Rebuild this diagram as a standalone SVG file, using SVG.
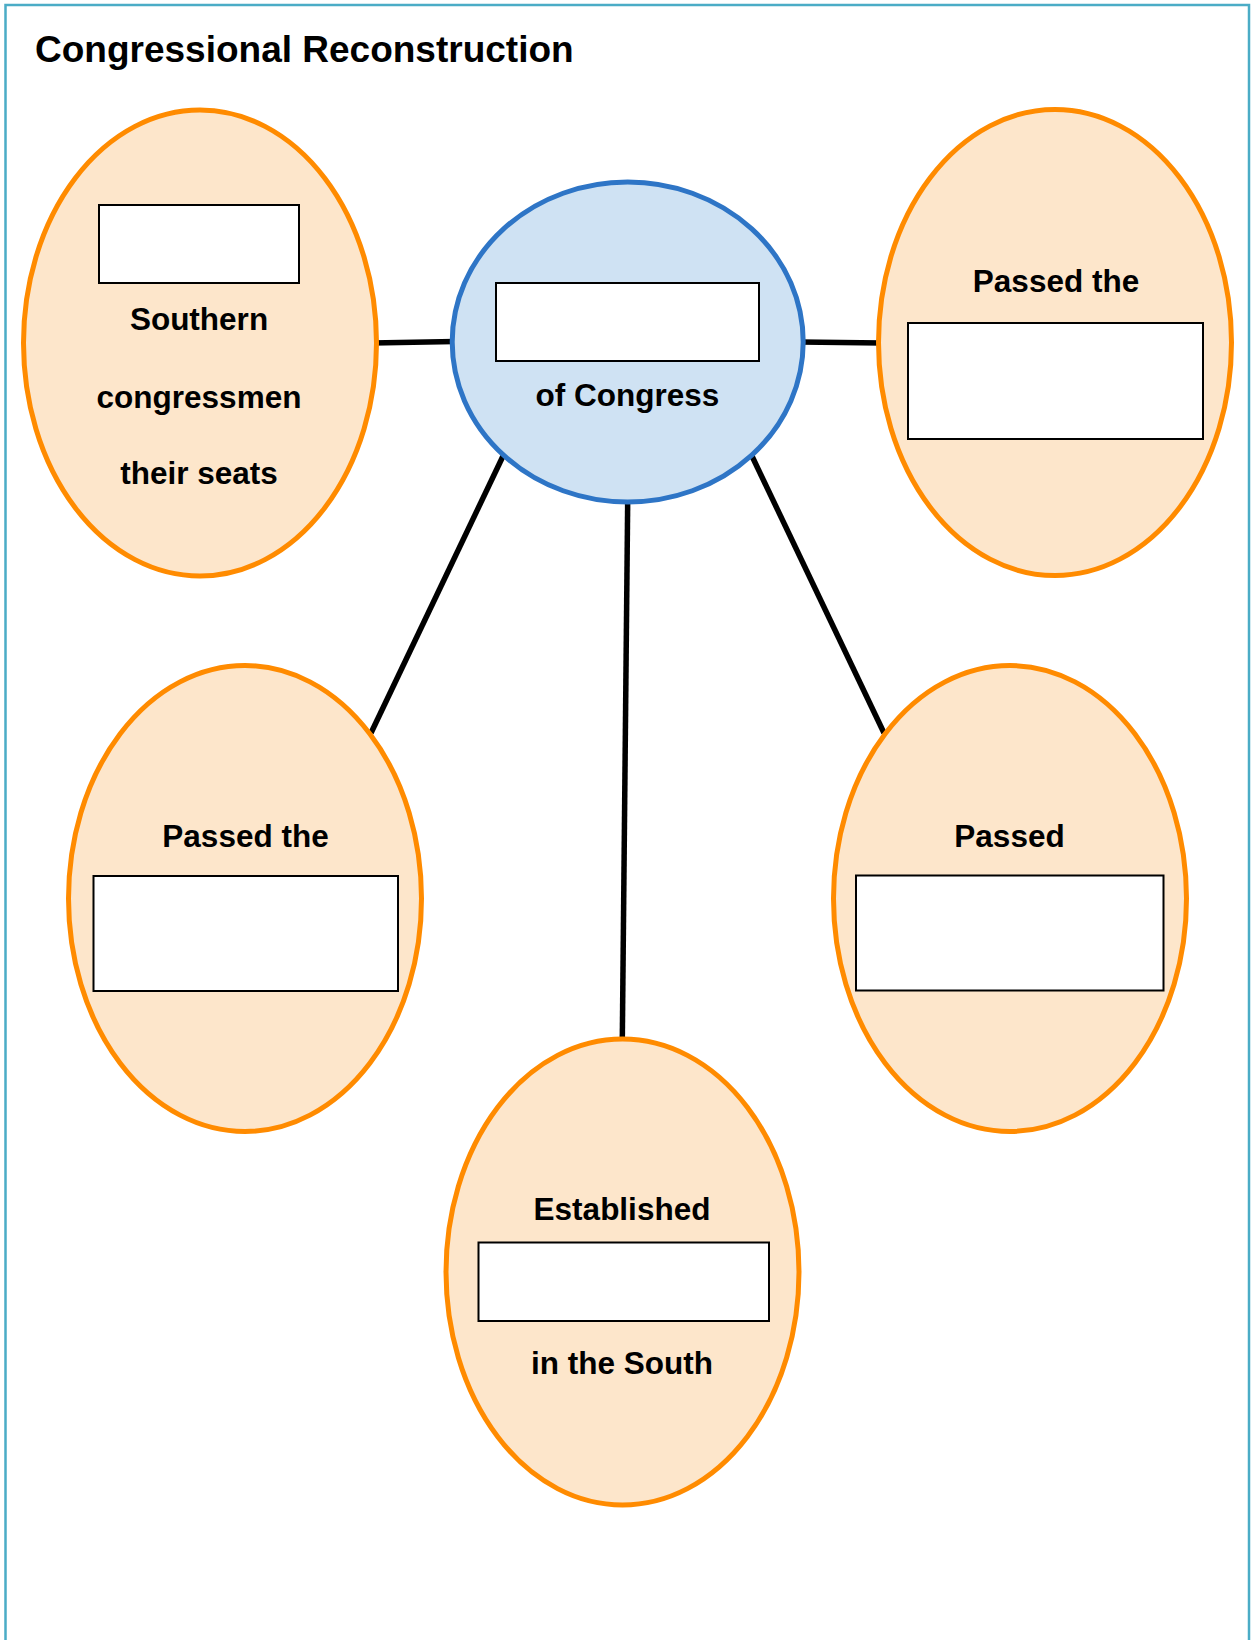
<svg xmlns="http://www.w3.org/2000/svg" width="1251" height="1640" viewBox="0 0 1251 1640">
  <style>
    .frame { fill: none; stroke: #4bacc6; stroke-width: 2.5; }
    .title { font-family: "Liberation Sans", Arial, sans-serif; font-weight: bold; font-size: 37px; fill: #000; }
    .label { font-family: "Liberation Sans", Arial, sans-serif; font-weight: bold; font-size: 31.5px; fill: #000; text-anchor: middle; }
    .idea { fill: #fde6cb; stroke: #ff8b00; stroke-width: 5; }
    .hub { fill: #cfe2f3; stroke: #2e75c6; stroke-width: 5; }
    .blank { fill: #fff; stroke: #000; stroke-width: 2; }
    .link { stroke: #000; stroke-width: 5.5; fill: none; }
  </style>

  <rect width="1251" height="1640" fill="#fff"/>
  <rect class="frame" x="5.5" y="5" width="1243.5" height="1660"/>

  <text class="title" x="35" y="62">Congressional Reconstruction</text>

  <!-- spokes from the hub to each idea -->
  <g id="connectors">
    <line class="link" x1="372" y1="343" x2="455" y2="341.5"/>
    <line class="link" x1="800" y1="342" x2="882" y2="343"/>
    <line class="link" x1="504" y1="454" x2="371" y2="733"/>
    <line class="link" x1="751" y1="454" x2="884" y2="733"/>
    <line class="link" x1="627.7" y1="500" x2="622.3" y2="1040"/>
  </g>

  <g id="hub">
    <ellipse class="hub" cx="627.7" cy="342" rx="175.5" ry="160"/>
    <rect class="blank" x="496" y="283" width="263" height="78"/>
    <text class="label" x="627.5" y="406">of Congress</text>
  </g>

  <g id="southern-congressmen">
    <ellipse class="idea" cx="200" cy="343" rx="176.5" ry="233"/>
    <rect class="blank" x="99" y="205" width="200" height="78"/>
    <text class="label" x="199" y="330">Southern</text>
    <text class="label" x="199" y="407.5">congressmen</text>
    <text class="label" x="199" y="484">their seats</text>
  </g>

  <g id="passed-the-right">
    <ellipse class="idea" cx="1055" cy="342.5" rx="176.5" ry="233"/>
    <text class="label" x="1056" y="292">Passed the</text>
    <rect class="blank" x="908" y="323" width="295" height="116"/>
  </g>

  <g id="passed-the-left">
    <ellipse class="idea" cx="245" cy="898.5" rx="176.5" ry="233"/>
    <text class="label" x="245.5" y="846.5">Passed the</text>
    <rect class="blank" x="93.5" y="876" width="304.5" height="115"/>
  </g>

  <g id="passed">
    <ellipse class="idea" cx="1010" cy="898.5" rx="176.5" ry="233"/>
    <text class="label" x="1009.5" y="846.5">Passed</text>
    <rect class="blank" x="856" y="875.5" width="307.5" height="115"/>
  </g>

  <g id="established">
    <ellipse class="idea" cx="622.5" cy="1272" rx="176.5" ry="233"/>
    <text class="label" x="622" y="1220">Established</text>
    <rect class="blank" x="478.5" y="1242.5" width="290.5" height="78.5"/>
    <text class="label" x="622" y="1374">in the South</text>
  </g>
</svg>
